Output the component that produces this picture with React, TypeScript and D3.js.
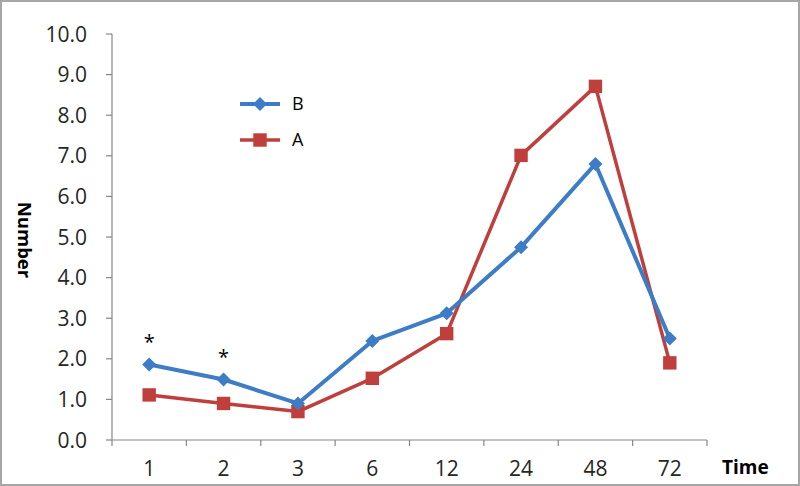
import React from "react";
import * as d3 from "d3";

const times = ["1", "2", "3", "6", "12", "24", "48", "72"];
const seriesB = [1.86, 1.49, 0.9, 2.44, 3.12, 4.75, 6.8, 2.5];
const seriesA = [1.11, 0.9, 0.7, 1.52, 2.62, 7.01, 8.71, 1.9];
const yTicks = [0, 1, 2, 3, 4, 5, 6, 7, 8, 9, 10];
const starTimes = ["1", "2"];
const starValues = [2.62, 2.23];

const width = 800;
const height = 486;
const blue = "#3d7cc6";
const red = "#be3f3c";
const font = "'Open Sans', 'Liberation Sans', sans-serif";

// square-ish diamond marker (Excel style)
const diamondPath = (r: number) => `M0,${-r}L${r},0L0,${r}L${-r},0Z`;

const App = () => {
    const x = d3.scaleBand().domain(times).range([112, 707]);
    const y = d3.scaleLinear().domain([0, 10]).range([440, 34]);
    const cx = (t: string) => (x(t) as number) + x.bandwidth() / 2;

    const line = d3
        .line<number>()
        .x((d, i) => cx(times[i]))
        .y((d) => y(d));

    const diamond = diamondPath(7);
    const square = d3.symbol().type(d3.symbolSquare).size(180)();

    const boundaries = times.map((t) => x(t) as number).concat([707]);

    return (
        <div style={{ position: "absolute", left: 0, top: 0 }}>
            <svg width={width} height={height} style={{ display: "block", background: "#fff" }}>
                <rect x={1} y={1} width={width - 2} height={height - 2} fill="none" stroke="#a6a6a6" strokeWidth={2} />

                {/* y axis */}
                <line x1={112} x2={112} y1={y(10)} y2={y(0)} stroke="#868686" strokeWidth={1.2} />
                {yTicks.map((t) => (
                    <g key={t}>
                        <line x1={106} x2={112} y1={y(t)} y2={y(t)} stroke="#868686" strokeWidth={1.2} />
                        <text x={87} y={y(t)} dy="0.36em" textAnchor="end" fontFamily={font} style={{ fontSize: "21px" }} fill="#262626">
                            {t.toFixed(1)}
                        </text>
                    </g>
                ))}

                {/* x axis */}
                <line x1={112} x2={707} y1={y(0)} y2={y(0)} stroke="#868686" strokeWidth={1.2} />
                {boundaries.map((b, i) => (
                    <line key={i} x1={b} x2={b} y1={y(0)} y2={y(0) + 6} stroke="#868686" strokeWidth={1.2} />
                ))}
                {times.map((t) => (
                    <text key={t} x={cx(t)} y={468} dy="0.36em" textAnchor="middle" fontFamily={font} style={{ fontSize: "21px" }} fill="#262626">
                        {t}
                    </text>
                ))}

                {/* axis titles */}
                <text
                    transform={`translate(25,240) rotate(90)`}
                    textAnchor="middle"
                    dy="0.36em"
                    fontFamily={font}
                    style={{ fontSize: "18.5px" }}
                    fontWeight="bold"
                    fill="#000"
                >
                    Number
                </text>
                <text x={722} y={467} dy="0.36em" fontFamily={font} style={{ fontSize: "19px" }} fontWeight="bold" fill="#000">
                    Time
                </text>

                {/* series */}
                <path d={line(seriesA) as string} fill="none" stroke={red} strokeWidth={3.5} strokeLinejoin="round" />
                <path d={line(seriesB) as string} fill="none" stroke={blue} strokeWidth={4} strokeLinejoin="round" />
                {seriesA.map((v, i) => (
                    <path key={"a" + i} d={square as string} transform={`translate(${cx(times[i])},${y(v)})`} fill={red} />
                ))}
                {seriesB.map((v, i) => (
                    <path key={"b" + i} d={diamond} transform={`translate(${cx(times[i])},${y(v)})`} fill={blue} />
                ))}

                {/* significance marks */}
                {starTimes.map((t, i) => (
                    <text key={t} x={cx(t)} y={y(starValues[i])} dy="0.75em" textAnchor="middle" fontFamily={font} style={{ fontSize: "20px" }} fill="#000">
                        *
                    </text>
                ))}

                {/* legend */}
                <g transform="translate(240,104)">
                    <line x1={0} x2={40} y1={0} y2={0} stroke={blue} strokeWidth={4} />
                    <path d={diamond} transform="translate(20,0)" fill={blue} />
                    <text x={52} y={0} dy="0.36em" fontFamily={font} style={{ fontSize: "18px" }} fill="#000">B</text>
                </g>
                <g transform="translate(240,140)">
                    <line x1={0} x2={40} y1={0} y2={0} stroke={red} strokeWidth={3.5} />
                    <path d={square as string} transform="translate(20,0)" fill={red} />
                    <text x={52} y={0} dy="0.36em" fontFamily={font} style={{ fontSize: "18px" }} fill="#000">A</text>
                </g>
            </svg>
        </div>
    );
};

export default App;
